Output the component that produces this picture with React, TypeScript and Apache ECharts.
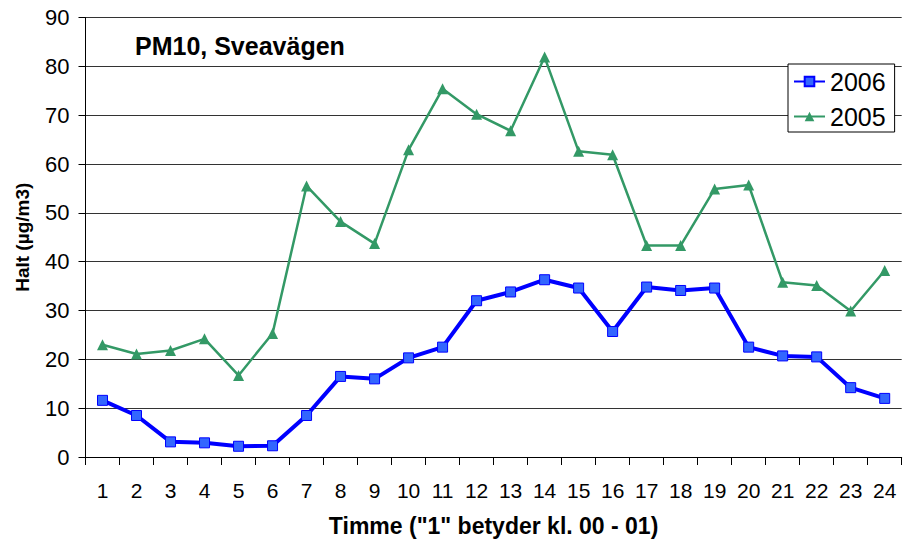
import React, { useEffect, useRef } from "react";
import * as echarts from "echarts";

const hours = ["1","2","3","4","5","6","7","8","9","10","11","12","13","14","15","16","17","18","19","20","21","22","23","24"];
const values2006 = [11.6, 8.5, 3.1, 2.9, 2.2, 2.3, 8.5, 16.5, 16.0, 20.3, 22.5, 32.0, 33.8, 36.3, 34.6, 25.7, 34.8, 34.1, 34.6, 22.5, 20.7, 20.5, 14.2, 12.0];
const values2005 = [23.0, 21.1, 21.8, 24.2, 16.7, 25.3, 55.5, 48.2, 43.7, 62.9, 75.4, 70.2, 66.8, 81.9, 62.6, 61.9, 43.3, 43.3, 54.9, 55.7, 35.8, 35.1, 29.9, 38.2];
const titleText = "PM10, Sveavägen";
const xName = 'Timme ("1" betyder kl. 00 - 01)';
const yName = "Halt (µg/m3)";

const FONT = "Liberation Sans, Arial, sans-serif";

export default function App() {
  const ref = useRef<HTMLDivElement>(null);
  useEffect(() => {
    if (!ref.current) return;
    const chart = echarts.init(ref.current, null, { renderer: "svg" });
    chart.setOption({
      animation: false,
      backgroundColor: "#ffffff",
      textStyle: { fontFamily: FONT, color: "#000" },
      title: {
        text: titleText,
        left: 130,
        top: 28,
        textStyle: { fontFamily: FONT, fontSize: 25, fontWeight: "bold", color: "#000" },
      },
      legend: {
        orient: "vertical",
        left: 788,
        top: 64,
        backgroundColor: "#fff",
        borderColor: "#000",
        borderWidth: 1,
        borderRadius: 0,
        padding: [5, 9, 3, 5],
        itemGap: 10,
        itemWidth: 31,
        itemHeight: 12,
        textStyle: { fontFamily: FONT, fontSize: 25, color: "#000" },
        data: ["2006", "2005"],
      },
      grid: { left: 85.5, top: 17.5, right: 1.3, bottom: 89, containLabel: false },
      xAxis: {
        type: "category",
        data: hours,
        boundaryGap: true,
        name: xName,
        nameLocation: "middle",
        nameGap: 57,
        nameTextStyle: { fontFamily: FONT, fontSize: 23, fontWeight: "bold", color: "#000" },
        axisLine: { lineStyle: { color: "#000", width: 1 } },
        axisTick: { show: true, alignWithLabel: false, length: 8, lineStyle: { color: "#000" } },
        axisLabel: { fontFamily: FONT, fontSize: 21, color: "#000", margin: 23, interval: 0 },
        splitLine: { show: false },
      },
      yAxis: {
        type: "value",
        min: 0,
        max: 90,
        interval: 10,
        name: yName,
        nameLocation: "middle",
        nameGap: 54,
        nameRotate: 90,
        nameTextStyle: { fontFamily: FONT, fontSize: 19, fontWeight: "bold", color: "#000" },
        axisLine: { show: true, lineStyle: { color: "#000", width: 1 } },
        axisTick: { show: true, length: 7, lineStyle: { color: "#000" } },
        axisLabel: { fontFamily: FONT, fontSize: 22, color: "#000", margin: 16 },
        splitLine: { show: true, lineStyle: { color: "#333", width: 1 } },
      },
      series: [
        {
          name: "2006",
          type: "line",
          data: values2006,
          symbol: "rect",
          symbolSize: 10,
          lineStyle: { color: "#0000FF", width: 4 },
          itemStyle: { color: "#3366FF", borderColor: "#0000FF", borderWidth: 1 },
          z: 3,
        },
        {
          name: "2005",
          type: "line",
          data: values2005,
          symbol: "triangle",
          symbolSize: 11,
          lineStyle: { color: "#339966", width: 2.5 },
          itemStyle: { color: "#339966", borderColor: "#339966", borderWidth: 0 },
          z: 2,
        },
      ],
    });
    return () => chart.dispose();
  }, []);
  return (
    <div
      ref={ref}
      style={{ position: "fixed", left: 0, top: 0, width: 903, height: 546 }}
    />
  );
}
